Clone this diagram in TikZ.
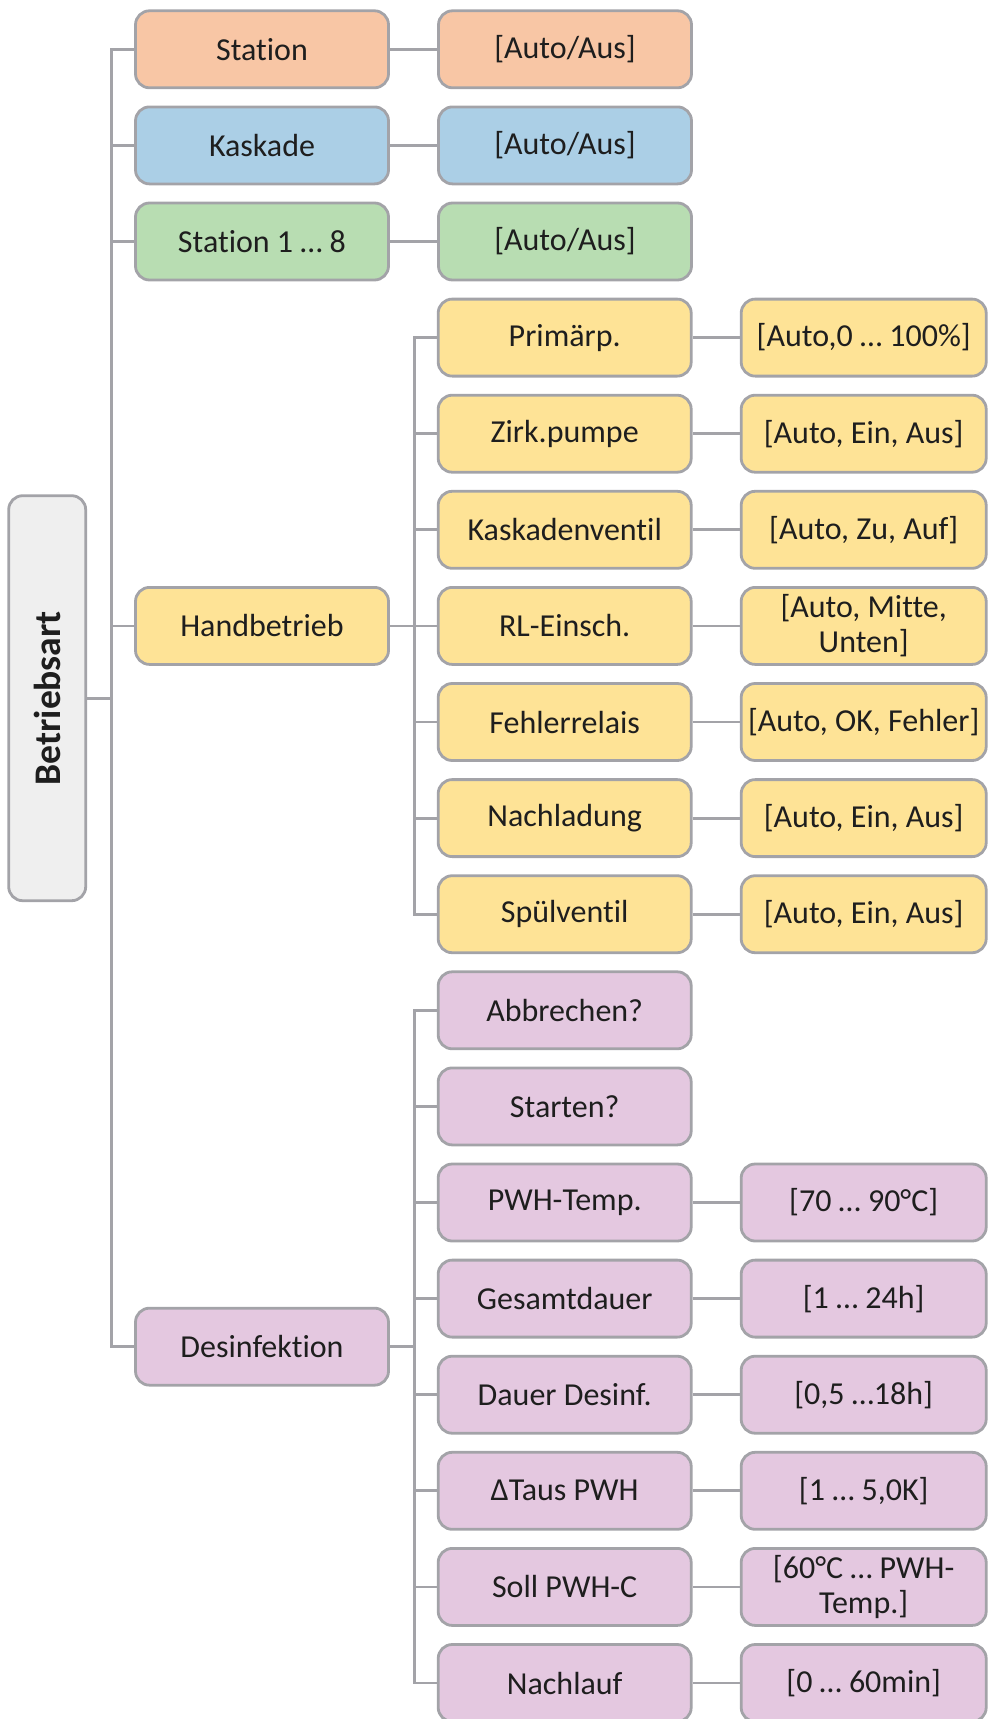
\documentclass[tikz,border=0pt]{standalone}
\usepackage{fontspec}
\setmainfont{Carlito}[Ligatures=CommonOff]
\usetikzlibrary{positioning}

\definecolor{lineg}{HTML}{A3A3A8}
\definecolor{txt}{HTML}{1E1E1E}
\definecolor{orangef}{HTML}{F8C6A5}
\definecolor{bluef}{HTML}{ABCFE6}
\definecolor{greenf}{HTML}{B8DDB2}
\definecolor{yellowf}{HTML}{FEE396}
\definecolor{purplef}{HTML}{E4C8E0}
\definecolor{grayf}{HTML}{EFEFEF}

\begin{document}
\begin{tikzpicture}[
    x=0.5pt, y=-0.5pt,
    box/.style={draw=lineg, line width=1.4pt, rounded corners=7pt, inner sep=0pt,
                minimum height=38.5pt, minimum width=126.5pt, align=center,
                text=txt, font=\fontsize{16}{17.5}\selectfont},
    val/.style={box, minimum width=122.5pt},
    conn/.style={draw=lineg, line width=1.4pt},
    node distance=23.6pt,
]
\useasboundingbox (0,0) rectangle (988,1719);

% root
\node[box, fill=grayf, minimum width=38.5pt, minimum height=202.5pt,
      font=\fontsize{18.8}{20}\selectfont\bfseries] (betr) at (47.2,698.2)
      {\rotatebox{90}{Betriebsart}};

% first level
\node[box, fill=orangef] (sta)  at (262,49.3)    {Station};
\node[box, fill=bluef]   (kas)  at (262,145.4)   {Kaskade};
\node[box, fill=greenf]  (st18) at (262,241.5)   {Station 1 … 8};
\node[box, fill=yellowf] (hand) at (262,625.9)   {Handbetrieb};
\node[box, fill=purplef] (desi) at (262,1346.65) {Desinfektion};

\node[box, fill=orangef, right=of sta]  (staval)  {[Auto/Aus]};
\node[box, fill=bluef,   right=of kas]  (kasval)  {[Auto/Aus]};
\node[box, fill=greenf,  right=of st18] (st18val) {[Auto/Aus]};

% Handbetrieb
\node[box, fill=yellowf] (prim) at (564.7,337.6) {Primärp.};
\node[box, fill=yellowf] (zirk) at (564.7,433.7) {Zirk.pumpe};
\node[box, fill=yellowf] (kven) at (564.7,529.8) {Kaskadenventil};
\node[box, fill=yellowf] (rlei) at (564.7,625.9) {RL-Einsch.};
\node[box, fill=yellowf] (fehl) at (564.7,722.0) {Fehlerrelais};
\node[box, fill=yellowf] (nach) at (564.7,818.1) {Nachladung};
\node[box, fill=yellowf] (spue) at (564.7,914.2) {Spülventil};

\node[val, fill=yellowf, right=of prim] (primval) {[Auto,0 … 100\%]};
\node[val, fill=yellowf, right=of zirk] (zirkval) {[Auto, Ein, Aus]};
\node[val, fill=yellowf, right=of kven] (kvenval) {[Auto, Zu, Auf]};
\node[val, fill=yellowf, right=of rlei] (rleival) {[Auto, Mitte,\\Unten]};
\node[val, fill=yellowf, right=of fehl] (fehlval) {[Auto, OK, Fehler]};
\node[val, fill=yellowf, right=of nach] (nachval) {[Auto, Ein, Aus]};
\node[val, fill=yellowf, right=of spue] (spueval) {[Auto, Ein, Aus]};

% Desinfektion
\node[box, fill=purplef] (abbr) at (564.7,1010.3) {Abbrechen?};
\node[box, fill=purplef] (star) at (564.7,1106.4) {Starten?};
\node[box, fill=purplef] (ptmp) at (564.7,1202.5) {PWH-Temp.};
\node[box, fill=purplef] (gesd) at (564.7,1298.6) {Gesamtdauer};
\node[box, fill=purplef] (daud) at (564.7,1394.7) {Dauer Desinf.};
\node[box, fill=purplef] (dtau) at (564.7,1490.8) {ΔTaus PWH};
\node[box, fill=purplef] (soll) at (564.7,1586.9) {Soll PWH-C};
\node[box, fill=purplef] (nlau) at (564.7,1683.0) {Nachlauf};

\node[val, fill=purplef, right=of ptmp] (ptmpval) {[70 … 90°C]};
\node[val, fill=purplef, right=of gesd] (gesdval) {[1 … 24h]};
\node[val, fill=purplef, right=of daud] (daudval) {[0,5 …18h]};
\node[val, fill=purplef, right=of dtau] (dtauval) {[1 … 5,0K]};
\node[val, fill=purplef, right=of soll] (sollval) {[60°C … PWH-\\Temp.]};
\node[val, fill=purplef, right=of nlau] (nlauval) {[0 … 60min]};

% tree lines
\draw[conn] (betr.east) -- ++(24.7,0) coordinate (t0);
\draw[conn] (t0) |- (sta.west) (t0) |- (kas.west) (t0) |- (st18.west)
            (t0) |- (hand.west) (t0) |- (desi.west);

\draw[conn] (hand.east) -- ++(24.7,0) coordinate (t1);
\draw[conn] (t1) |- (prim.west) (t1) |- (zirk.west) (t1) |- (kven.west)
            (t1) |- (rlei.west) (t1) |- (fehl.west) (t1) |- (nach.west)
            (t1) |- (spue.west);

\draw[conn] (desi.east) -- ++(24.7,0) coordinate (t2);
\draw[conn] (t2) |- (abbr.west) (t2) |- (star.west) (t2) |- (ptmp.west)
            (t2) |- (gesd.west) (t2) |- (daud.west) (t2) |- (dtau.west)
            (t2) |- (soll.west) (t2) |- (nlau.west);

% values
\draw[conn] (sta) -- (staval);
\draw[conn] (kas) -- (kasval);
\draw[conn] (st18) -- (st18val);
\draw[conn] (prim) -- (primval);
\draw[conn] (zirk) -- (zirkval);
\draw[conn] (kven) -- (kvenval);
\draw[conn] (rlei) -- (rleival);
\draw[conn] (fehl) -- (fehlval);
\draw[conn] (nach) -- (nachval);
\draw[conn] (spue) -- (spueval);
\draw[conn] (ptmp) -- (ptmpval);
\draw[conn] (gesd) -- (gesdval);
\draw[conn] (daud) -- (daudval);
\draw[conn] (dtau) -- (dtauval);
\draw[conn] (soll) -- (sollval);
\draw[conn] (nlau) -- (nlauval);
\end{tikzpicture}
\end{document}
